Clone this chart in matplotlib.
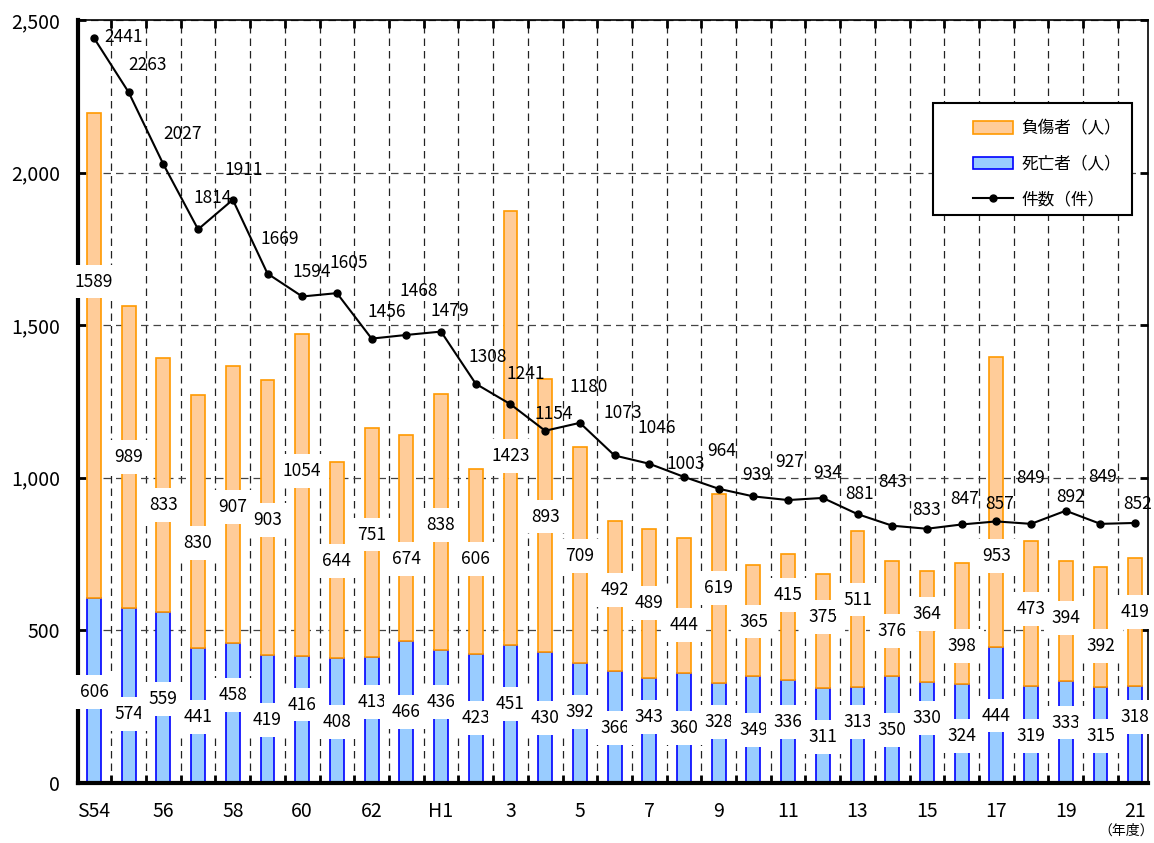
import matplotlib
matplotlib.use("Agg")
import matplotlib.pyplot as plt
import matplotlib.ticker as mticker
from matplotlib.patches import Rectangle, Patch
from matplotlib.lines import Line2D
import numpy as np

plt.rcParams['font.family'] = ['Noto Sans CJK JP', 'DejaVu Sans']

# data (S54 .. H21)
years = ['S54', '55', '56', '57', '58', '59', '60', '61', '62', '63', 'H1',
         '2', '3', '4', '5', '6', '7', '8', '9', '10', '11', '12', '13', '14',
         '15', '16', '17', '18', '19', '20', '21']
deaths = [606, 574, 559, 441, 458, 419, 416, 408, 413, 466, 436, 423, 451, 430,
          392, 366, 343, 360, 328, 349, 336, 311, 313, 350, 330, 324, 444, 319,
          333, 315, 318]
injured = [1589, 989, 833, 830, 907, 903, 1054, 644, 751, 674, 838, 606, 1423,
           893, 709, 492, 489, 444, 619, 365, 415, 375, 511, 376, 364, 398, 953,
           473, 394, 392, 419]
cases = [2441, 2263, 2027, 1814, 1911, 1669, 1594, 1605, 1456, 1468, 1479, 1308,
         1241, 1154, 1180, 1073, 1046, 1003, 964, 939, 927, 934, 881, 843, 833,
         847, 857, 849, 892, 849, 852]

# where the value labels sit (moved by hand in the original)
death_lab_y = [298, 226, 275, 216, 288, 206, 256, 200, 265, 233, 265, 213, 259,
               213, 233, 180, 216, 180, 200, 174, 200, 151, 200, 174, 213, 154,
               220, 154, 197, 154, 216]
inj_lab_y = [1642, 1068, 911, 786, 904, 862, 1022, 727, 813, 734, 845, 734, 1071,
             872, 744, 632, 590, 518, 639, 528, 616, 544, 600, 498, 554, 449, 744,
             570, 541, 449, 560]
case_lab_off = [(30, 1), (19, 27), (19, 30), (15, 31), (11, 30), (12, 35),
                (10, 24), (12, 30), (15, 27), (12, 44), (9, 21), (12, 27),
                (15, 30), (9, 17), (9, 36), (8, 42), (7, 36), (2, 13), (3, 38),
                (3, 21), (2, 38), (5, 25), (2, 20), (0, 44), (0, 19), (3, 25),
                (3, 17), (0, 46), (5, 14), (2, 47), (2, 19)]

x = np.arange(len(years))

fig = plt.figure(figsize=(11.54, 8.43), dpi=100)
ax = fig.add_axes([0.0676, 0.0712, 0.9272, 0.9051])

w = 0.40
ax.bar(x, deaths, w, color='#99ccff', edgecolor='#0000ff', linewidth=1.2,
       zorder=2)
ax.bar(x, injured, w, bottom=deaths, color='#ffcc99', edgecolor='#ff9900',
       linewidth=1.2, zorder=2)
ax.plot(x, cases, color='black', lw=1.5, marker='o', markersize=5, zorder=4)

box = dict(facecolor='white', edgecolor='none', pad=5.5)
for i in x:
    ax.text(i, death_lab_y[i], str(deaths[i]), ha='center', va='center',
            fontsize=12.5, bbox=box, zorder=3)
    ax.text(i, inj_lab_y[i], str(injured[i]), ha='center', va='center',
            fontsize=12.5, bbox=box, zorder=3)
    ax.annotate(str(cases[i]), (i, cases[i]), xytext=case_lab_off[i],
                textcoords='offset pixels', ha='center', va='center',
                fontsize=12.5, zorder=5)

ax.set_xlim(-0.46, 30.37)
ax.set_ylim(0, 2500)
ax.yaxis.set_major_locator(mticker.MultipleLocator(500))
ax.yaxis.set_major_formatter(mticker.FuncFormatter(lambda v, p: f'{int(v):,}'))

ax.set_xticks(x[::2])
ax.set_xticklabels(years[::2], fontsize=14)
ax.set_xticks(x[:-1] + 0.5, minor=True)
ax.tick_params(axis='x', which='major', length=0, pad=13)
ax.tick_params(axis='x', which='minor', direction='in', length=6, width=2,
               top=True)
ax.tick_params(axis='y', direction='in', length=6, width=2, right=True,
               labelsize=14, pad=13)

ax.grid(axis='y', which='major', color='#444444', linestyle=(0, (6, 4)),
        lw=0.9, zorder=1)
ax.grid(axis='x', which='minor', color='#222222', linestyle=(0, (6, 4)),
        lw=0.9, zorder=1)

for s in ['left', 'bottom']:
    ax.spines[s].set_linewidth(3)
for s in ['top', 'right']:
    ax.spines[s].set_linewidth(1.2)

# legend box
W, H = fig.get_size_inches() * fig.dpi
frame = Rectangle((933 / W, 1 - 215 / H), 199 / W, 112 / H,
                  transform=fig.transFigure, facecolor='white',
                  edgecolor='black', lw=1.5, zorder=10)
fig.add_artist(frame)
handles = [Patch(facecolor='#ffcc99', edgecolor='#ff9900', lw=1.2),
           Patch(facecolor='#99ccff', edgecolor='#0000ff', lw=1.2),
           Line2D([], [], color='black', lw=1.5, marker='o', markersize=5)]
leg = fig.legend(handles, ['負傷者（人）', '死亡者（人）', '件数（件）'],
                 loc='upper left', bbox_to_anchor=(965 / W, 1 - 112 / H),
                 fontsize=12, frameon=False, borderpad=0, labelspacing=1.1,
                 handlelength=2.4, handleheight=0.75, handletextpad=0.5)
leg.set_zorder(11)

ax.text(x[-1] - 0.25, -0.062, '（年度）', transform=ax.get_xaxis_transform(),
        ha='center', va='center', fontsize=10)

fig.savefig('out.png', dpi=100)
